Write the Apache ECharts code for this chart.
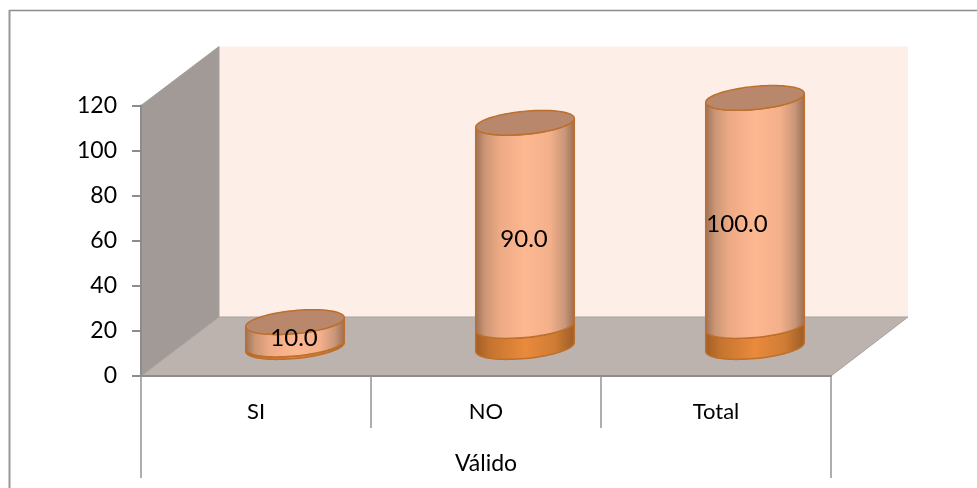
<!DOCTYPE html>
<html><head><meta charset="utf-8">
<style>html,body{margin:0;padding:0;background:#fff}#c{width:977px;height:488px}</style>
<script src="https://cdn.jsdelivr.net/npm/echarts@6/dist/echarts.min.js"></script>
</head><body><div id="c"></div>
<script>
var categories = ['SI', 'NO', 'Total'];
var groupLabels = ['Válido'];
var values = [10, 90, 100];
var yTicksMax = 120;

var FONT = 'Lato, "Open Sans", sans-serif';
var DX = 78, DY = -59;       // depth of the box
var CX = 39, CY = -29;       // depth of the cylinders inside it
var PERSP = 1.105;           // near-scale of the cylinder heights
var RX = 49.5, RY = 11.5, TILT = -5.5 * Math.PI / 180;
var T0 = Math.atan2(-RY * Math.sin(TILT), RX * Math.cos(TILT));

function ell(cx, cy, t) {
  return [cx + RX * Math.cos(t) * Math.cos(TILT) - RY * Math.sin(t) * Math.sin(TILT),
          cy + RX * Math.cos(t) * Math.sin(TILT) + RY * Math.sin(t) * Math.cos(TILT)];
}
function arc(cx, cy, from, to, n) {
  var p = [];
  for (var i = 0; i <= n; i++) p.push(ell(cx, cy, from + (to - from) * i / n));
  return p;
}
function grad(stops) {
  return { type: 'linear', x: 0, y: 0, x2: 1, y2: 0,
    colorStops: stops.map(function (s) { return { offset: s[0], color: s[1] }; }) };
}
var bodyFill = grad([[0, '#9a6f55'], [0.1, '#cb9676'], [0.25, '#eeaa85'], [0.5, '#fdb892'], [0.75, '#f4b08a'], [0.9, '#c89679'], [1, '#9a6c4f']]);
var bandFill = grad([[0, '#a05d24'], [0.15, '#c4742f'], [0.5, '#ea8a3c'], [0.8, '#cf7c35'], [1, '#9c5c25']]);
var EDGE = '#bd6f2c';

function renderBox(params, api) {
  var bl = api.coord([0, 0]), tl = api.coord([0, yTicksMax]);
  var s = params.coordSys;
  var l = s.x, r = s.x + s.width, b = bl[1], t = tl[1];
  return { type: 'group', children: [
    { type: 'polygon', shape: { points: [[l + DX, t + DY], [r + DX - 1, t + DY], [r + DX - 1, b + DY], [l + DX, b + DY]] },
      style: { fill: '#fdeee7' } },
    { type: 'polygon', shape: { points: [[l, t], [l + DX, t + DY], [l + DX, b + DY], [l, b]] },
      style: { fill: '#a29a96', stroke: '#a8a29e', lineWidth: 1 } },
    { type: 'polygon', shape: { points: [[l, b], [l + DX, b + DY], [r + DX - 1, b + DY], [r, b]] },
      style: { fill: '#bcb2ae', stroke: '#a6a2a0', lineWidth: 1 } }
  ] };
}

function renderCyl(params, api) {
  var i = api.value(0), v = api.value(1);
  var base = api.coord([i, 0]), zero = base[1];
  var px = (zero - api.coord([i, v])[1]) * PERSP;
  var cx = base[0] + CX, by = zero + CY, ty = by - px;
  var band = v > 20 ? 21 : 2.5;
  var my = by - band;
  var kids = [];
  kids.push({ type: 'polygon', shape: { points: arc(cx, by, T0, T0 + Math.PI, 40).concat(arc(cx, my, T0 + Math.PI, T0, 40)) },
    style: { fill: bandFill, stroke: EDGE, lineWidth: 1.5 } });
  kids.push({ type: 'polygon', shape: { points: arc(cx, my, T0, T0 + Math.PI, 40).concat(arc(cx, ty, T0 + Math.PI, T0, 40)) },
    style: { fill: bodyFill, stroke: EDGE, lineWidth: 1.5 } });
  kids.push({ type: 'polygon', shape: { points: arc(cx, ty, 0, Math.PI * 2, 80) },
    style: { fill: '#b9876b', stroke: EDGE, lineWidth: 1.5 } });
  kids.push({ type: 'text', x: cx + (i === 2 ? -18 : -1), y: (ty + by) / 2 + (i === 2 ? 2 : 4),
    style: { text: v.toFixed(1), fill: '#000', font: '24px ' + FONT, align: 'center', verticalAlign: 'middle' } });
  return { type: 'group', children: kids };
}

var chart = echarts.init(document.getElementById('c'), null, { renderer: 'canvas' });
chart.setOption({
  animation: false,
  backgroundColor: '#fff',
  graphic: [
    { type: 'line', silent: true, shape: { x1: 9, y1: 10.5, x2: 977, y2: 10.5 }, style: { stroke: '#8c8c8c', lineWidth: 1.5 } },
    { type: 'line', silent: true, shape: { x1: 9.5, y1: 10, x2: 9.5, y2: 488 }, style: { stroke: '#979797', lineWidth: 2 } }
  ],
  grid: { left: 141, right: 146, top: 105.5, bottom: 112, containLabel: false },
  xAxis: [
    { type: 'category', data: categories, position: 'bottom', z: 5,
      axisLine: { lineStyle: { color: '#8c8c8c', width: 2 } },
      axisTick: { show: true, length: 52, alignWithLabel: false, lineStyle: { color: '#949494', width: 1.5 } },
      axisLabel: { color: '#000', fontFamily: FONT, fontSize: 22, margin: 25 } },
    { type: 'category', data: groupLabels, position: 'bottom', offset: 52, z: 5,
      axisLine: { show: false },
      axisTick: { show: true, length: 50, alignWithLabel: false, lineStyle: { color: '#949494', width: 1.5 } },
      axisLabel: { color: '#000', fontFamily: FONT, fontSize: 23, margin: 24 } }
  ],
  yAxis: { type: 'value', min: 0, max: yTicksMax, interval: 20, z: 5,
    axisLine: { show: true, lineStyle: { color: '#8c8c8c', width: 2 } },
    axisTick: { show: true, length: 9, inside: false, lineStyle: { color: '#8c8c8c', width: 2 } },
    splitLine: { show: false },
    axisLabel: { color: '#000', fontFamily: FONT, fontSize: 23, margin: 24, padding: [3, 0, 0, 0] } },
  series: [
    { type: 'custom', coordinateSystem: 'cartesian2d', z: 1, silent: true, clip: false,
      renderItem: renderBox, data: [[0, 0]] },
    { type: 'custom', coordinateSystem: 'cartesian2d', z: 2, silent: true, clip: false,
      renderItem: renderCyl, encode: { x: 0, y: 1 },
      data: values.map(function (v, i) { return [i, v]; }) }
  ]
});
</script></body></html>
